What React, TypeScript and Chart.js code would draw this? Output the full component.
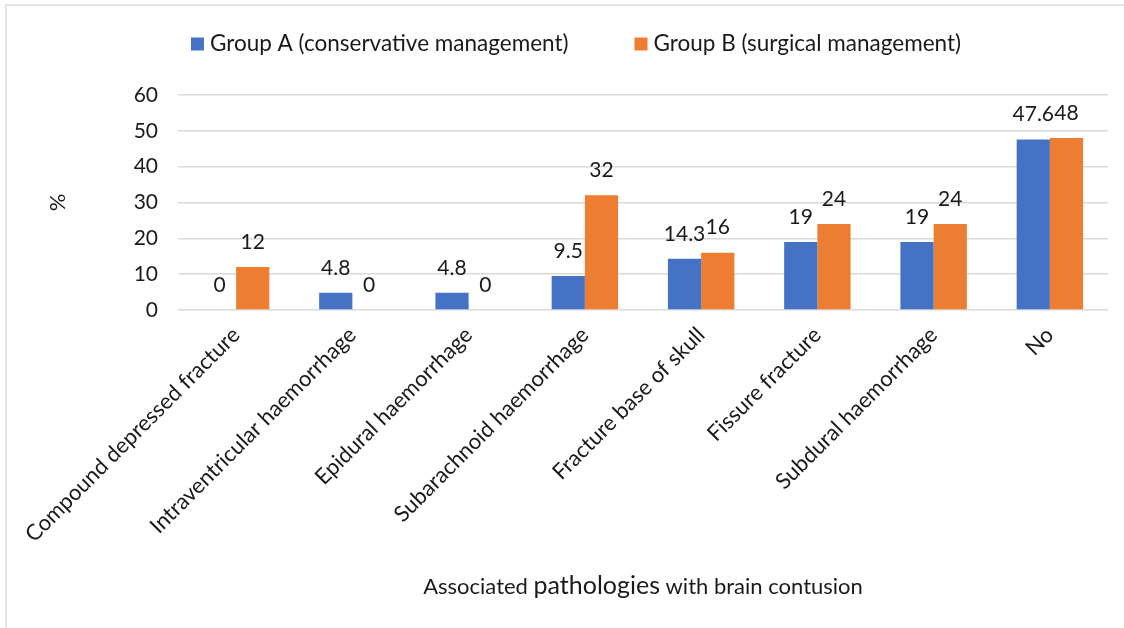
import React, { useEffect, useRef } from "react";
import { Chart, registerables } from "chart.js";

Chart.register(...registerables);

const categories = [
  "Compound depressed fracture",
  "Intraventricular haemorrhage",
  "Epidural haemorrhage",
  "Subarachnoid haemorrhage",
  "Fracture base of skull",
  "Fissure fracture",
  "Subdural haemorrhage",
  "No",
];
const groupA = [0, 4.8, 4.8, 9.5, 14.3, 19, 19, 47.6];
const groupB = [12, 0, 0, 32, 16, 24, 24, 48];
const seriesNames = [
  "Group A (conservative management)",
  "Group B (surgical management)",
];
const seriesColors = ["#4472C4", "#ED7D31"];
const yTicks = { min: 0, max: 60, step: 10 };
const yTitle = "%";
const xTitleParts = ["Associated ", "pathologies", " with brain contusion"];

const FONT = "Lato";
const TEXT = "#1a1a1a";

const extras = {
  id: "extras",
  beforeDraw(chart: any) {
    const ctx = chart.ctx;
    ctx.save();
    ctx.fillStyle = "#ffffff";
    ctx.fillRect(0, 0, chart.width, chart.height);
    ctx.strokeStyle = "#d9d9d9";
    ctx.lineWidth = 1.5;
    ctx.beginPath();
    ctx.moveTo(6, chart.height);
    ctx.lineTo(6, 5);
    ctx.lineTo(chart.width, 5);
    ctx.stroke();
    ctx.restore();
  },
  afterDatasetsDraw(chart: any) {
    const ctx = chart.ctx;
    ctx.save();
    ctx.font = `21px ${FONT}`;
    ctx.fillStyle = TEXT;
    ctx.textAlign = "center";
    ctx.textBaseline = "middle";
    chart.data.datasets.forEach((ds: any, di: number) => {
      const meta = chart.getDatasetMeta(di);
      meta.data.forEach((bar: any, i: number) => {
        ctx.fillText(String(ds.data[i]), bar.x, bar.y - 25);
      });
    });
    ctx.restore();
  },
  afterDraw(chart: any) {
    const ctx = chart.ctx;
    const area = chart.chartArea;
    ctx.save();
    ctx.fillStyle = TEXT;
    // legend
    ctx.font = `22.5px ${FONT}`;
    ctx.textBaseline = "middle";
    ctx.textAlign = "left";
    const box = 13;
    const gapText = 6;
    const gapItem = 66;
    const widths = chart.data.datasets.map(
      (ds: any) => box + gapText + ctx.measureText(ds.label).width
    );
    const total = widths.reduce((a: number, b: number) => a + b, 0) + gapItem;
    let x = 576 - total / 2;
    const ly = 44;
    chart.data.datasets.forEach((ds: any, i: number) => {
      ctx.fillStyle = ds.backgroundColor;
      ctx.fillRect(x, ly - box / 2, box, box);
      ctx.fillStyle = TEXT;
      ctx.fillText(ds.label, x + box + gapText, ly);
      x += widths[i] + gapItem;
    });
    // y title
    ctx.save();
    ctx.translate(58, (area.top + area.bottom) / 2);
    ctx.rotate(-Math.PI / 2);
    ctx.textAlign = "center";
    ctx.textBaseline = "middle";
    ctx.font = `22px ${FONT}`;
    ctx.fillText(yTitle, 0, 0);
    ctx.restore();
    // x title
    const fonts = [`22px ${FONT}`, `25px ${FONT}`, `22px ${FONT}`];
    let tw = 0;
    const ws = xTitleParts.map((p, i) => {
      ctx.font = fonts[i];
      const w = ctx.measureText(p).width;
      tw += w;
      return w;
    });
    let tx = (area.left + area.right) / 2 - tw / 2;
    ctx.textAlign = "left";
    ctx.textBaseline = "alphabetic";
    xTitleParts.forEach((p, i) => {
      ctx.font = fonts[i];
      ctx.fillText(p, tx, 594);
      tx += ws[i];
    });
    ctx.restore();
  },
};

export default function App() {
  const ref = useRef<HTMLCanvasElement | null>(null);
  useEffect(() => {
    if (!ref.current) return;
    const chart = new Chart(ref.current, {
      type: "bar",
      data: {
        labels: categories,
        datasets: [
          {
            label: seriesNames[0],
            data: groupA,
            backgroundColor: seriesColors[0],
            categoryPercentage: 0.5714,
            barPercentage: 1,
          },
          {
            label: seriesNames[1],
            data: groupB,
            backgroundColor: seriesColors[1],
            categoryPercentage: 0.5714,
            barPercentage: 1,
          },
        ],
      },
      options: {
        responsive: false,
        animation: false,
        devicePixelRatio: 1,
        layout: { padding: { top: 95, left: 0, right: 16, bottom: 0 } },
        plugins: {
          legend: { display: false },
          tooltip: { enabled: false },
        },
        scales: {
          x: {
            afterFit: (s: any) => {
              s.height = 318;
            },
            grid: { display: false, drawTicks: false },
            border: { display: false },
            ticks: {
              autoSkip: false,
              maxRotation: 45,
              minRotation: 45,
              padding: 12,
              color: TEXT,
              font: { family: FONT, size: 22 },
            },
          },
          y: {
            min: yTicks.min,
            max: yTicks.max,
            afterFit: (s: any) => {
              s.width = 178;
            },
            grid: { color: "#d9d9d9", lineWidth: 1.5, drawTicks: false },
            border: { display: false },
            ticks: {
              stepSize: yTicks.step,
              padding: 20,
              color: TEXT,
              font: { family: FONT, size: 21 },
            },
          },
        },
      },
      plugins: [extras],
    });
    return () => chart.destroy();
  }, []);
  return (
    <div style={{ position: "absolute", left: 0, top: 0, width: 1124, height: 628, background: "#fff" }}>
      <canvas ref={ref} width={1124} height={628} />
    </div>
  );
}
